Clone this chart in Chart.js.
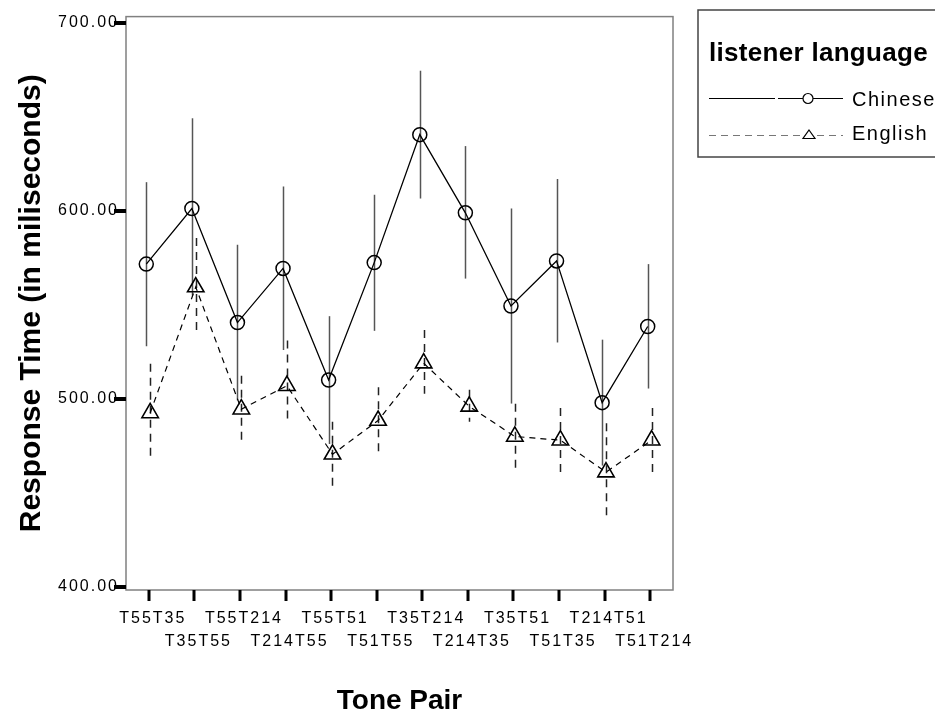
<!DOCTYPE html>
<html>
<head>
<meta charset="utf-8">
<script src="https://cdn.jsdelivr.net/npm/chart.js@4/dist/chart.umd.min.js"></script>
<style>
    html, body { margin: 0; padding: 0; background: #fff; }
    canvas { display: block; }
</style>
</head>
<body>
<canvas id="myChart" width="935" height="717"></canvas>
<script>
// --------------------------- DATA ---------------------------

const tonePairs = ['T55T35', 'T35T55', 'T55T214', 'T214T55', 'T55T51', 'T51T55',
                   'T35T214', 'T214T35', 'T35T51', 'T51T35', 'T214T51', 'T51T214'];

// Chinese listeners: mean and error bar ends
const chineseMean = [571.7, 601.3, 540.6, 569.4, 510.0, 572.5, 640.6, 599.0, 549.4, 573.4, 498.0, 538.5];
const chineseLow  = [528.0, 555.0, 499.2, 526.0, 476.0, 536.2, 606.6, 564.0, 497.5, 530.0, 464.5, 505.5];
const chineseHigh = [615.3, 649.3, 582.0, 613.0, 544.0, 608.6, 674.6, 634.5, 601.3, 617.0, 531.5, 571.7];

// English listeners
const englishMean = [492.5, 559.5, 494.5, 507.0, 470.5, 488.5, 519.0, 496.0, 480.0, 478.0, 461.0, 478.0];
const englishLow  = [467.4, 534.5, 478.0, 489.0, 453.8, 471.6, 502.7, 487.8, 463.0, 461.1, 435.5, 461.1];
const englishHigh = [518.7, 585.6, 512.3, 531.0, 487.8, 506.2, 536.7, 504.9, 497.4, 495.2, 487.0, 495.2];

const yTicks = [400, 500, 600, 700];

const FONT = '"Liberation Sans", Arial, sans-serif';

// --------------------------- PLUGINS ---------------------------

// wide letter spacing for tick labels (SPSS look)
const spacing = {
    id: 'spacing',
    beforeLayout(chart) { chart.ctx.letterSpacing = '2px'; },
    beforeDraw(chart) { chart.ctx.letterSpacing = '2px'; }
};

// vertical error bars under the markers
const errorBars = {
    id: 'errorBars',
    beforeDatasetsDraw(chart) {
        const {ctx, scales: {x, y}} = chart;
        chart.data.datasets.forEach((ds) => {
            ctx.save();
            ctx.strokeStyle = ds.barColor;
            ctx.lineWidth = 1.5;
            ctx.setLineDash(ds.barDash);
            ds.data.forEach((pt, i) => {
                const px = Math.round(x.getPixelForValue(pt.x)) + 0.5;
                ctx.beginPath();
                ctx.moveTo(px, y.getPixelForValue(ds.high[i]));
                ctx.lineTo(px, y.getPixelForValue(ds.low[i]));
                ctx.stroke();
            });
            ctx.restore();
        });
    }
};

// frame, thick tick marks, axis titles, legend
const decorations = {
    id: 'decorations',
    afterDraw(chart) {
        const {ctx, chartArea: a, scales: {x, y}} = chart;
        ctx.save();
        ctx.letterSpacing = '0px';

        // plot frame
        ctx.strokeStyle = '#808080';
        ctx.lineWidth = 1.5;
        ctx.strokeRect(a.left, a.top, a.right - a.left, a.bottom - a.top);

        // tick marks
        ctx.fillStyle = '#000';
        yTicks.forEach((v) => {
            const py = Math.round(y.getPixelForValue(v));
            ctx.fillRect(a.left - 12, py - 2, 12, 4);
        });
        tonePairs.forEach((_, i) => {
            const px = Math.round(x.getPixelForValue(i));
            ctx.fillRect(px - 1.5, a.bottom, 3, 11);
        });

        // axis titles
        ctx.fillStyle = '#000';
        ctx.textAlign = 'center';
        ctx.textBaseline = 'middle';
        ctx.font = 'bold 30px ' + FONT;
        ctx.save();
        ctx.translate(32, (a.top + a.bottom) / 2);
        ctx.rotate(-Math.PI / 2);
        ctx.fillText('Response Time (in miliseconds)', 0, 0);
        ctx.restore();
        ctx.font = 'bold 28px ' + FONT;
        ctx.fillText('Tone Pair', (a.left + a.right) / 2, 701);

        // legend box
        ctx.strokeStyle = '#444';
        ctx.lineWidth = 1.5;
        ctx.strokeRect(698, 10, 260, 147);
        ctx.textAlign = 'left';
        ctx.textBaseline = 'alphabetic';
        ctx.font = 'bold 26px ' + FONT;
        ctx.letterSpacing = '0.3px';
        ctx.fillText('listener language', 709, 61);
        ctx.letterSpacing = '0px';

        const ds = chart.data.datasets;
        // Chinese sample
        ctx.strokeStyle = '#000';
        ctx.lineWidth = 1.2;
        ctx.beginPath();
        ctx.moveTo(709, 98.5); ctx.lineTo(775, 98.5);
        ctx.moveTo(778, 98.5); ctx.lineTo(843, 98.5);
        ctx.stroke();
        ctx.fillStyle = '#fff';
        ctx.beginPath();
        ctx.arc(808, 98.5, 5, 0, Math.PI * 2);
        ctx.fill();
        ctx.stroke();
        // English sample
        ctx.strokeStyle = '#777';
        ctx.setLineDash([7, 5]);
        ctx.beginPath();
        ctx.moveTo(709, 135.5); ctx.lineTo(843, 135.5);
        ctx.stroke();
        ctx.setLineDash([]);
        ctx.strokeStyle = '#000';
        ctx.beginPath();
        ctx.moveTo(809, 130); ctx.lineTo(815, 138.5); ctx.lineTo(803, 138.5); ctx.closePath();
        ctx.fillStyle = '#fff';
        ctx.fill();
        ctx.stroke();

        ctx.fillStyle = '#000';
        ctx.font = '20px ' + FONT;
        ctx.letterSpacing = '1.5px';
        ctx.fillText(ds[0].label, 852, 106);
        ctx.fillText(ds[1].label, 852, 140);
        ctx.restore();
    }
};

// --------------------------- CHART ---------------------------

const chineseShift = -0.055;
const englishShift = 0.03;

let ctx = document.querySelector('#myChart');
let myChart = new Chart(ctx, {
    type: 'line',
    data: {
        datasets: [{
            label: 'Chinese',
            data: chineseMean.map((v, i) => ({x: i + chineseShift, y: v})),
            low: chineseLow,
            high: chineseHigh,
            barColor: '#555',
            barDash: [],
            borderColor: '#000',
            borderWidth: 1.3,
            pointStyle: 'circle',
            pointRadius: 7,
            pointBorderWidth: 1.5,
            pointBorderColor: '#000',
            pointBackgroundColor: 'transparent',
            tension: 0
        }, {
            label: 'English',
            data: englishMean.map((v, i) => ({x: i + englishShift, y: v})),
            low: englishLow,
            high: englishHigh,
            barColor: '#222',
            barDash: [8, 6],
            borderColor: '#000',
            borderWidth: 1.2,
            borderDash: [6, 5],
            pointStyle: 'triangle',
            pointRadius: 9.5,
            pointBorderWidth: 1.6,
            pointBorderColor: '#000',
            pointBackgroundColor: 'transparent',
            tension: 0
        }]
    },
    options: {
        responsive: false,
        animation: false,
        layout: { padding: { top: 7, right: 262, left: 0, bottom: 0 } },
        plugins: {
            legend: { display: false },
            tooltip: { enabled: false }
        },
        scales: {
            x: {
                type: 'linear',
                min: -0.5,
                max: 11.5,
                afterFit: (scale) => { scale.height = 127; },
                afterBuildTicks: (scale) => { scale.ticks = tonePairs.map((_, i) => ({value: i})); },
                grid: { display: false, drawTicks: false },
                border: { display: false },
                ticks: {
                    autoSkip: false,
                    maxRotation: 0,
                    minRotation: 0,
                    padding: 17,
                    labelOffset: 4,
                    color: '#000',
                    font: { family: FONT, size: 16, lineHeight: 1.45 },
                    callback: (value, index) => index % 2 === 0 ? [tonePairs[index], ''] : ['', tonePairs[index]]
                }
            },
            y: {
                min: 398.3,
                max: 703.4,
                afterFit: (scale) => { scale.width = 126; },
                afterBuildTicks: (scale) => { scale.ticks = yTicks.map((v) => ({value: v})); },
                grid: { display: false, drawTicks: false },
                border: { display: false },
                ticks: {
                    padding: 7,
                    color: '#000',
                    font: { family: FONT, size: 16 },
                    callback: (value) => value.toFixed(2)
                }
            }
        }
    },
    plugins: [spacing, errorBars, decorations]
});
</script>
</body>
</html>
